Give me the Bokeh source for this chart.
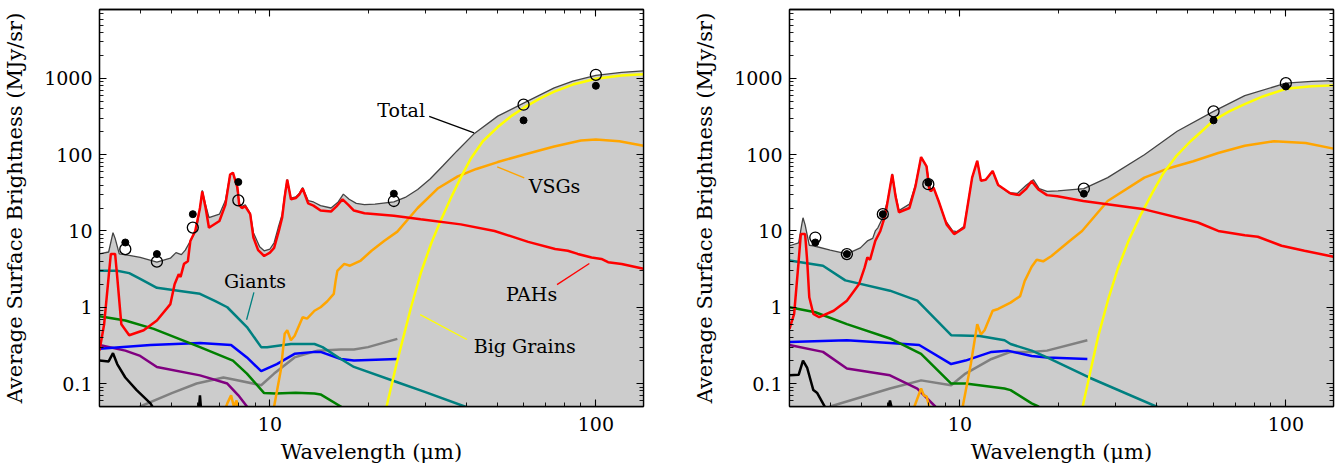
from bokeh.plotting import figure
from bokeh.layouts import row
from bokeh.models import Range1d, FixedTicker, LogAxis, CustomJSTickFormatter, ColumnDataSource
from bokeh.core.properties import value
from bokeh.embed import file_html
from bokeh.resources import INLINE

# ---------------- axis ticks ----------------
X_MAJOR = [10, 100]
X_MINOR = [3, 4, 5, 6, 7, 8, 9, 20, 30, 40, 50, 60, 70, 80, 90]
Y_MAJOR = [0.1, 1, 10, 100, 1000]
Y_MINOR = [0.05, 0.06, 0.07, 0.08, 0.09,
           0.2, 0.3, 0.4, 0.5, 0.6, 0.7, 0.8, 0.9,
           2, 3, 4, 5, 6, 7, 8, 9,
           20, 30, 40, 50, 60, 70, 80, 90,
           200, 300, 400, 500, 600, 700, 800, 900,
           2000, 3000, 4000, 5000, 6000, 7000, 8000]

# ---------------- photometry ----------------
BANDS = [3.6, 4.5, 5.8, 8.0, 24, 60, 100]
L_OBS = [5.78, 3.96, 11.07, 25.2, 24.7, 452, 1115]
L_MOD = [7.06, 4.98, 16.6, 43.8, 30.8, 282, 800]
R_OBS = [8.2, 4.98, 16.6, 41, 35.8, 370, 865]
R_MOD = [7.06, 4.98, 16.6, 43, 30.8, 282, 783]

# ---------------- left panel curves ----------------
L_TOTAL_WL = [3.0, 3.2, 3.27, 3.3, 3.35, 3.45, 3.7, 4.0, 4.5, 4.95, 5.15, 5.35, 5.5, 5.7, 5.95, 6.1, 6.2, 6.35, 6.5,
              7.0, 7.3, 7.55, 7.7, 7.9, 8.05, 8.2, 8.4, 8.7, 8.9, 9.3, 9.6, 10.0, 10.3, 10.6, 10.9, 11.1, 11.3, 11.6,
              12.0, 12.3, 12.6, 13.1, 13.6, 14.3, 15.4, 16.2, 16.8, 17.5, 18.4, 19.5, 21, 24, 26, 28.4, 31, 34,
              37.5, 42.4, 50, 60, 74.5, 85, 100, 120, 140]
L_TOTAL = [5.0, 5.3, 8.0, 9.5, 8.0, 5.0, 4.8, 4.5, 3.9, 4.4, 5.2, 4.9, 5.6, 7.4, 10.5, 20, 34, 22, 15,
           16.6, 25, 55, 58, 40, 23, 21, 22, 17, 9.5, 6.2, 5.5, 5.8, 7, 11, 16.5, 30, 47.4, 27,
           28, 31, 37, 25, 24, 21.5, 20, 24, 30.4, 26, 23, 22.2, 22.5, 24, 27.5, 35, 48, 72,
           112, 190, 320, 474, 750, 920, 1092, 1200, 1256]

L_PAH_WL = [3.0, 3.1, 3.2, 3.25, 3.35, 3.4, 3.5, 3.7, 4.1, 4.5, 4.95, 5.1, 5.25, 5.32, 5.45, 5.6, 5.7, 5.9, 6.1, 6.2,
            6.35, 6.5, 7.0, 7.3, 7.55, 7.7, 7.95, 8.05, 8.2, 8.4, 8.7, 8.9, 9.2, 9.6, 10.0, 10.3, 10.65, 10.9, 11.1,
            11.3, 11.6, 12.0, 12.3, 12.6, 13.1, 13.6, 14.3, 15.4, 16.0, 16.7, 17.4, 18.1, 19.5, 24, 29, 38.5, 48.9,
            62, 75, 82, 88, 97, 104, 109, 120, 140]
L_PAH = [0.27, 0.6, 2.5, 5.0, 5.0, 2.5, 0.6, 0.43, 0.50, 0.67, 1.1, 2.0, 2.7, 2.5, 3.7, 4.0, 7.4, 10, 20, 33,
         20, 11, 13.5, 22, 55, 58, 37, 22, 20, 21, 16.6, 8.2, 5.6, 4.7, 5.2, 6.0, 10, 14.9, 28,
         47, 26, 27, 30, 36, 23, 21.5, 18.5, 18, 21, 26, 22, 18.5, 17.1, 15.8, 14.2, 12.2, 10,
         7.2, 5.8, 5.5, 5.0, 4.5, 4.3, 3.9, 3.7, 3.2]

L_BG_WL = [21, 22.8, 24.6, 27.1, 29.1, 31.3, 33.5, 35.9, 38.5, 41.4, 45, 50, 55, 60, 67, 74.5, 85, 100, 120, 140]
L_BG = [0.01, 0.05, 0.2, 1.0, 2.9, 7.0, 14, 27, 50, 90, 150, 230, 320, 410, 540, 670, 830, 990, 1090, 1134]

L_VSG_WL = [6.8, 7.4, 7.6, 7.75, 7.9, 8.1, 9.8, 10.3, 10.8, 11.1, 11.3, 11.6, 11.9, 12.6, 13.0, 13.7, 14.3, 15.0,
            15.7, 15.9, 16.1, 16.9, 17.6, 19.0, 20.5, 22.4, 24.6, 28.4, 32.7, 37.7, 43, 50, 60, 74.5, 90, 100, 118, 140]
L_VSG = [0.02, 0.055, 0.07, 0.05, 0.06, 0.03, 0.02, 0.05, 0.15, 0.45, 0.5, 0.37, 0.42, 0.74, 0.71, 0.9, 1.0, 1.2,
         1.5, 2.2, 3.0, 3.7, 3.5, 4.1, 5.5, 7.4, 9.8, 20, 36, 52, 65, 80, 100, 128, 153, 158, 150, 131]

L_GIANT_WL = [3.0, 3.4, 3.7, 4.0, 4.5, 5.5, 6.1, 6.8, 7.4, 8.5, 9.4, 9.8, 11.6, 13.7, 14.5, 16.5, 18.1, 24.6, 30, 39.6, 50]
L_GIANT = [3.0, 3.0, 2.8, 2.35, 1.8, 1.6, 1.5, 1.2, 1.0, 0.55, 0.30, 0.30, 0.33, 0.33, 0.30, 0.21, 0.165, 0.104, 0.077, 0.05, 0.033]

L_GREEN_WL = [3.0, 3.6, 4.4, 6.1, 7.7, 8.5, 9.6, 10.4, 12, 13.7, 14.3, 16.5, 18]
L_GREEN = [0.76, 0.67, 0.52, 0.30, 0.20, 0.135, 0.075, 0.074, 0.076, 0.074, 0.072, 0.05, 0.04]

L_BLUE_WL = [3.0, 4.3, 6.1, 7.6, 8.5, 9.4, 10.5, 11.9, 13.7, 14.3, 16.5, 18.1, 24.6]
L_BLUE = [0.285, 0.32, 0.34, 0.32, 0.22, 0.145, 0.18, 0.245, 0.26, 0.26, 0.21, 0.2, 0.21]

L_PURPLE_WL = [3.0, 3.6, 4.0, 4.5, 6.1, 7.4, 8.0, 8.5, 9.0]
L_PURPLE = [0.32, 0.27, 0.23, 0.165, 0.128, 0.10, 0.07, 0.05, 0.035]

L_BLACK_WL = [3.0, 3.2, 3.3, 3.4, 3.6, 3.9, 4.3, 4.5, 5.9, 6.05, 6.1, 6.15, 6.3]
L_BLACK = [0.2, 0.195, 0.25, 0.18, 0.12, 0.082, 0.055, 0.04, 0.04, 0.045, 0.07, 0.045, 0.04]

L_GRAY_WL = [3.5, 4.0, 5.0, 5.96, 7.2, 7.6, 9.4, 10.3, 11.9, 14.0, 16.5, 18.1, 20, 24.6]
L_GRAY = [0.035, 0.05, 0.075, 0.1, 0.12, 0.115, 0.095, 0.135, 0.22, 0.27, 0.28, 0.28, 0.30, 0.385]

# ---------------- right panel curves ----------------
R_TOTAL_WL = [3.0, 3.2, 3.27, 3.3, 3.35, 3.45, 3.55, 4.0, 4.5, 4.95, 5.2, 5.4, 5.5, 5.6, 5.8, 6.0, 6.2, 6.35, 6.5,
              7.0, 7.3, 7.6, 7.9, 8.15, 8.3, 8.6, 9.0, 9.5, 9.8, 10.3, 10.9, 11.3, 11.6, 12.0, 12.6, 13.1, 14.1,
              15, 16.0, 16.8, 17.5, 18.5, 20, 24, 28.4, 36.8, 46.4, 60, 74.8, 100, 120, 140]
R_TOTAL = [6.4, 7, 12, 14.9, 12, 6.5, 6.4, 5.6, 5.0, 6.0, 7.4, 8, 10, 11, 15, 25, 56, 30, 18.5,
           22.5, 40, 93, 70, 33, 37, 24.7, 14, 10, 9.8, 11.5, 50, 83, 45.6, 47, 61, 40, 31.7,
           31, 40, 47, 36, 33, 33.5, 35.8, 50, 100, 203, 370, 595, 865, 915, 935]

R_PAH_WL = [3.0, 3.1, 3.2, 3.25, 3.35, 3.4, 3.45, 3.55, 3.7, 4.1, 4.5, 4.9, 5.1, 5.2, 5.3, 5.5, 5.7, 5.9, 6.05, 6.2,
            6.35, 6.5, 7.0, 7.3, 7.6, 7.9, 8.05, 8.15, 8.3, 8.6, 9.1, 9.6, 10.3, 10.9, 11.3, 11.6, 12.0, 12.6, 13.1,
            14.3, 15.2, 16.0, 16.6, 17.4, 18.5, 19.9, 23.9, 36.8, 53.7, 62, 74.8, 82, 97, 114, 140]
R_PAH = [0.52, 0.82, 4, 9.1, 9.1, 4, 1.35, 0.82, 0.74, 0.9, 1.22, 2.0, 3.3, 4.5, 4.2, 7.4, 10, 16, 30, 55,
         28, 17.6, 20, 38, 93, 70, 36, 33, 37, 24.7, 12.2, 9.1, 11, 50, 83, 45.6, 47, 61, 40,
         31, 29.5, 36, 45, 35, 29.5, 28.5, 24.7, 19.2, 12.9, 10, 8.8, 8.4, 6.4, 5.5, 4.6]

R_BG_WL = [22, 23.8, 24.9, 26.5, 28.4, 30.5, 32.9, 35.8, 39, 42.2, 46, 51, 55, 60, 67, 74.8, 85, 100, 120, 140]
R_BG = [0.01, 0.05, 0.12, 0.4, 1.2, 3.2, 7.4, 16, 32, 58, 95, 150, 200, 282, 370, 460, 580, 730, 790, 810]

R_VSG_WL = [6.9, 7.25, 7.6, 7.75, 7.9, 8.05, 8.3, 9.8, 10.2, 10.8, 11.3, 11.6, 11.9, 12.6, 13.1, 14.3, 15.3, 15.8,
            16.6, 17.2, 18.0, 19.1, 21.7, 23.7, 28.4, 36.8, 44, 52, 62, 74.8, 92, 115, 140]
R_VSG = [0.02, 0.05, 0.086, 0.07, 0.068, 0.05, 0.03, 0.02, 0.05, 0.18, 0.6, 0.44, 0.5, 0.9, 0.95, 1.15, 1.4, 2.2,
         3.4, 4.2, 4.0, 4.7, 7.4, 10, 24.7, 50, 67, 82, 105, 131, 150, 142, 120]

R_GIANT_WL = [3.0, 3.8, 4.45, 6.1, 7.4, 9.4, 11.5, 13.7, 14.3, 16.6, 18.5, 24.9, 40, 50]
R_GIANT = [4.1, 3.5, 2.25, 1.65, 1.22, 0.43, 0.42, 0.37, 0.33, 0.27, 0.22, 0.12, 0.05, 0.033]

R_GREEN_WL = [3.0, 3.6, 4.5, 6.1, 7.6, 9.4, 10.4, 13.7, 14.3, 16.6, 17.4, 19]
R_GREEN = [1.0, 0.86, 0.6, 0.39, 0.245, 0.10, 0.10, 0.086, 0.082, 0.055, 0.05, 0.04]

R_BLUE_WL = [3.0, 4.5, 6.1, 7.5, 9.4, 10.4, 12.5, 14.0, 16.6, 18.5, 24.6]
R_BLUE = [0.35, 0.37, 0.34, 0.32, 0.18, 0.2, 0.26, 0.27, 0.23, 0.22, 0.21]

R_PURPLE_WL = [3.0, 3.8, 4.5, 6.1, 7.4, 8.4, 9.0]
R_PURPLE = [0.32, 0.26, 0.157, 0.128, 0.086, 0.05, 0.035]

R_BLACK_WL = [3.0, 3.2, 3.3, 3.4, 3.55, 3.65, 3.8, 3.9, 6.0, 6.1, 6.2]
R_BLACK = [0.128, 0.13, 0.2, 0.16, 0.082, 0.075, 0.055, 0.045, 0.045, 0.06, 0.045]

R_GRAY_WL = [3.5, 4.0, 6.1, 7.6, 9.4, 10.4, 12.5, 14.3, 16.6, 18.5, 24.6]
R_GRAY = [0.035, 0.05, 0.086, 0.11, 0.095, 0.135, 0.21, 0.26, 0.26, 0.27, 0.37]

# ---------------- annotations (left panel) ----------------
ANN_TEXT = ["Total", "VSGs", "Giants", "PAHs", "Big Grains"]
ANN_X = [29.9, 62.2, 9.0, 63.5, 42.2]
ANN_Y = [389, 38.8, 2.18, 1.50, 0.31]
ANN_ALIGN = ["right", "left", "center", "center", "left"]
ANN_X0 = [30.8, 49.8, 8.93, 76, 28.9]
ANN_Y0 = [318, 69.3, 1.57, 1.98, 0.80]
ANN_X1 = [42.3, 60.3, 8.48, 95.5, 40.2]
ANN_Y1 = [193, 49.8, 0.685, 3.75, 0.378]
ANN_COLOR = ["black", "orange", "teal", "red", "yellow"]

SERIF = "DejaVu Serif"


def style_axis(ax, show_labels):
    ax.axis_line_color = "black"
    ax.axis_line_width = 1.3
    ax.major_tick_in = 7
    ax.major_tick_out = 0
    ax.minor_tick_in = 4
    ax.minor_tick_out = 0
    ax.major_tick_line_color = "black"
    ax.minor_tick_line_color = "black"
    ax.major_tick_line_width = 1.1
    ax.minor_tick_line_width = 0.9
    if show_labels:
        ax.major_label_text_font = SERIF
        ax.major_label_text_font_size = "19px"
        ax.major_label_text_color = "black"
        ax.axis_label_text_font = SERIF
        ax.axis_label_text_font_size = "21px"
        ax.axis_label_text_font_style = "normal"
        ax.axis_label_text_color = "black"
    else:
        ax.major_label_text_font_size = "1px"
        ax.major_label_text_alpha = 0
        ax.major_label_standoff = 0


def make_panel(border_left, border_right, data, annotate):
    p = figure(x_axis_type="log", y_axis_type="log",
               x_range=Range1d(3, 140), y_range=Range1d(0.05, 8000),
               frame_width=544, frame_height=397,
               min_border_left=border_left, min_border_right=border_right,
               min_border_top=9, min_border_bottom=58,
               output_backend="svg", toolbar_location=None)
    p.grid.visible = False
    p.outline_line_color = "black"
    p.outline_line_width = 1.3
    p.background_fill_color = "white"
    p.border_fill_color = "white"

    p.xaxis.ticker = FixedTicker(ticks=X_MAJOR, minor_ticks=X_MINOR)
    p.yaxis.ticker = FixedTicker(ticks=Y_MAJOR, minor_ticks=Y_MINOR)
    p.xaxis.axis_label = "Wavelength (μm)"
    p.yaxis.axis_label = "Average Surface Brightness (MJy/sr)"
    p.xaxis.formatter = CustomJSTickFormatter(code="return String(tick);")
    p.yaxis.formatter = CustomJSTickFormatter(code="return String(tick);")
    style_axis(p.xaxis[0], True)
    style_axis(p.yaxis[0], True)
    p.xaxis.major_label_standoff = 10
    p.xaxis.axis_label_standoff = 6
    p.yaxis.major_label_standoff = 7
    p.yaxis.axis_label_standoff = 14

    top = LogAxis(ticker=FixedTicker(ticks=X_MAJOR, minor_ticks=X_MINOR))
    style_axis(top, False)
    p.add_layout(top, "above")
    right = LogAxis(ticker=FixedTicker(ticks=Y_MAJOR, minor_ticks=Y_MINOR))
    style_axis(right, False)
    p.add_layout(right, "right")

    (tw, tv, pw, pv, bw, bv, vw, vv, gw, gv, grw, grv, blw, blv, puw, puv, bkw, bkv, gyw, gyv, obs, mod) = data

    p.varea(x=tw, y1=0.001, y2=tv, fill_color="#cccccc")
    p.line(tw, tv, line_color="#444444", line_width=1.3)

    lw = 2.5
    p.line(gyw, gyv, line_color="gray", line_width=lw)
    p.line(bkw, bkv, line_color="black", line_width=lw)
    p.line(puw, puv, line_color="purple", line_width=lw)
    p.line(blw, blv, line_color="blue", line_width=lw)
    p.line(grw, grv, line_color="green", line_width=lw)
    p.line(gw, gv, line_color="teal", line_width=lw)
    p.line(vw, vv, line_color="orange", line_width=lw)
    p.line(bw, bv, line_color="yellow", line_width=lw)
    p.line(pw, pv, line_color="red", line_width=lw)

    p.scatter(BANDS, mod, size=7, marker="circle", fill_color="black", line_color="black")
    p.scatter(BANDS, obs, size=11, marker="circle", fill_color=None, line_color="black", line_width=1.3)

    if annotate:
        p.segment(x0=ANN_X0, y0=ANN_Y0, x1=ANN_X1, y1=ANN_Y1, line_color=ANN_COLOR, line_width=1.3)
        src = ColumnDataSource(dict(x=ANN_X, y=ANN_Y, t=ANN_TEXT, a=ANN_ALIGN))
        p.text(x="x", y="y", text="t", text_align="a", text_baseline="middle", source=src,
               text_font=value(SERIF), text_font_size="19px", text_color="black")
    return p


left = make_panel(98, 28, (L_TOTAL_WL, L_TOTAL, L_PAH_WL, L_PAH, L_BG_WL, L_BG, L_VSG_WL, L_VSG,
                           L_GIANT_WL, L_GIANT, L_GREEN_WL, L_GREEN, L_BLUE_WL, L_BLUE,
                           L_PURPLE_WL, L_PURPLE, L_BLACK_WL, L_BLACK, L_GRAY_WL, L_GRAY, L_OBS, L_MOD), True)
right = make_panel(118, 9, (R_TOTAL_WL, R_TOTAL, R_PAH_WL, R_PAH, R_BG_WL, R_BG, R_VSG_WL, R_VSG,
                            R_GIANT_WL, R_GIANT, R_GREEN_WL, R_GREEN, R_BLUE_WL, R_BLUE,
                            R_PURPLE_WL, R_PURPLE, R_BLACK_WL, R_BLACK, R_GRAY_WL, R_GRAY, R_OBS, R_MOD), False)

layout = row(left, right)
open("out.html", "w").write(file_html(layout, INLINE))
